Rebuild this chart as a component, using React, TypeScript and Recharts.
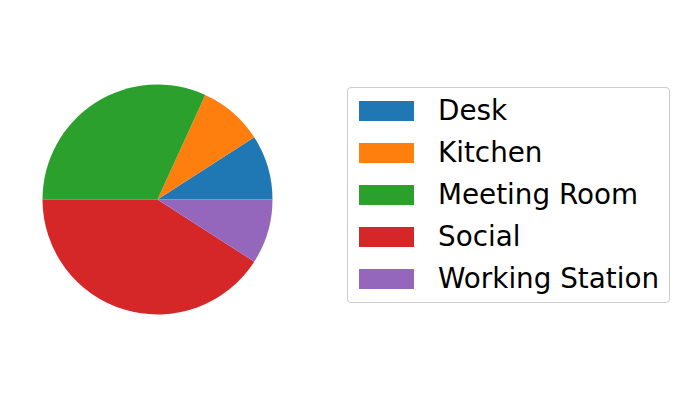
import { Cell, Legend, Pie, PieChart } from "recharts";

const categories = ["Desk", "Kitchen", "Meeting Room", "Social", "Working Station"];
const counts = [2, 2, 7, 9, 2];
const colors = ["#1f77b4", "#ff7f0e", "#2ca02c", "#d62728", "#9467bd"];

const data = categories.map((name, i) => ({ name, value: counts[i] }));

const font = "'DejaVu Sans', sans-serif";

function LegendBox() {
  return (
    <div
      style={{
        boxSizing: "border-box",
        width: 323,
        height: 216,
        border: "1px solid #cccccc",
        borderRadius: 4,
        background: "#fff",
        paddingTop: 2,
        fontFamily: font,
        fontSize: 27.8,
        color: "#000",
      }}
    >
      {categories.map((name, i) => (
        <div
          key={name}
          style={{ display: "flex", alignItems: "center", height: 42 }}
        >
          <span
            style={{
              display: "inline-block",
              marginLeft: 11,
              width: 55,
              height: 20,
              background: colors[i],
            }}
          />
          <span style={{ marginLeft: 24, lineHeight: "42px", whiteSpace: "nowrap" }}>
            {name}
          </span>
        </div>
      ))}
    </div>
  );
}

export default function App() {
  return (
    <div style={{ position: "fixed", left: 0, top: 0, background: "#fff" }}>
      <PieChart
        width={679}
        height={401}
        margin={{ top: 0, right: 0, bottom: 0, left: 0 }}
      >
        <Pie
          data={data}
          dataKey="value"
          nameKey="name"
          cx={157.5}
          cy={199.5}
          outerRadius={115}
          startAngle={0}
          endAngle={360}
          stroke="none"
          isAnimationActive={false}
        >
          {data.map((d, i) => (
            <Cell key={d.name} fill={colors[i]} />
          ))}
        </Pie>
        <Legend
          layout="vertical"
          align="right"
          verticalAlign="top"
          wrapperStyle={{ left: 347, top: 87, width: 323 }}
          content={() => <LegendBox />}
        />
      </PieChart>
    </div>
  );
}
